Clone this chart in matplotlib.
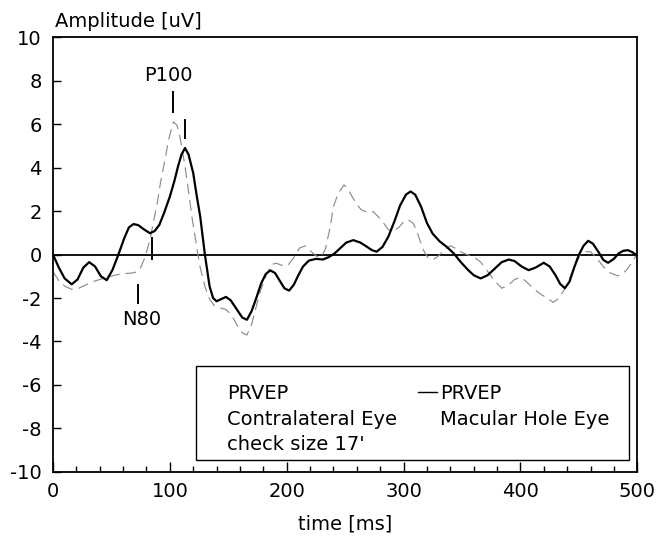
import matplotlib
matplotlib.use("Agg")
import matplotlib.pyplot as plt
from matplotlib.patches import Rectangle
from matplotlib.ticker import MultipleLocator

plt.rcParams['font.family'] = ['DejaVu Sans']
plt.rcParams['axes.unicode_minus'] = False
FS = 14

# macular hole eye (solid)
t_hole = [0, 5, 10, 16, 21, 26, 31, 36, 41, 46, 51, 56, 61, 65, 69, 73, 78, 83, 87, 91,
          95, 100, 104, 107, 110, 113, 116, 120, 123, 126, 130, 134, 137, 140, 144, 148,
          152, 157, 162, 166, 170, 174, 178, 182, 186, 190, 194, 198, 202, 206, 210, 214,
          219, 225, 231, 236, 241, 246, 251, 257, 263, 268, 273, 277, 282, 287, 292, 297,
          302, 306, 310, 315, 320, 325, 331, 337, 343, 349, 355, 360, 366, 372, 378, 384,
          390, 395, 401, 407, 413, 420, 425, 430, 434, 438, 442, 446, 450, 454, 458, 462,
          467, 471, 475, 480, 484, 488, 492, 496, 500]
amp_hole = [0.0, -0.6, -1.1, -1.37, -1.15, -0.6, -0.35, -0.55, -1.0, -1.18, -0.7, 0.0, 0.75,
            1.25, 1.4, 1.35, 1.15, 0.98, 1.08, 1.36, 1.9, 2.66, 3.4, 4.05, 4.6, 4.9, 4.6,
            3.75, 2.7, 1.75, 0.0, -1.46, -2.0, -2.15, -2.05, -1.95, -2.1, -2.5, -2.9, -3.0,
            -2.6, -2.0, -1.35, -0.9, -0.73, -0.85, -1.2, -1.55, -1.66, -1.4, -0.95, -0.55,
            -0.28, -0.2, -0.23, -0.12, 0.05, 0.3, 0.55, 0.66, 0.55, 0.38, 0.2, 0.13, 0.35,
            0.82, 1.5, 2.25, 2.75, 2.9, 2.75, 2.2, 1.45, 0.95, 0.6, 0.35, 0.05, -0.35, -0.7,
            -0.95, -1.1, -0.95, -0.65, -0.35, -0.23, -0.3, -0.55, -0.72, -0.6, -0.38, -0.55,
            -0.95, -1.35, -1.55, -1.25, -0.6, -0.02, 0.4, 0.63, 0.5, 0.1, -0.25, -0.38, -0.2,
            0.05, 0.17, 0.2, 0.1, -0.05]

# contralateral eye (dashed grey)
t_contra = [0, 5, 10, 16, 22, 28, 34, 40, 46, 52, 57, 63, 68, 72, 75, 79, 83, 86, 89, 92,
            96, 99, 103, 106, 108, 111, 113, 116, 119, 123, 126, 130, 134, 138, 143, 148,
            153, 158, 162, 166, 170, 174, 178, 183, 187, 191, 196, 201, 206, 211, 216, 221,
            226, 229, 233, 237, 240, 244, 249, 252, 256, 260, 264, 269, 274, 279, 283, 287,
            291, 296, 300, 304, 308, 311, 314, 317, 321, 324, 328, 332, 337, 340, 344, 348,
            354, 360, 366, 371, 377, 384, 390, 395, 400, 404, 408, 413, 418, 423, 428, 432,
            436, 440, 445, 451, 456, 460, 465, 471, 477, 483, 487, 491, 495, 500]
amp_contra = [-0.8, -1.2, -1.45, -1.6, -1.55, -1.4, -1.25, -1.15, -1.05, -0.97, -0.9, -0.87,
              -0.85, -0.8, -0.6, -0.1, 0.67, 1.5, 2.3, 3.3, 4.4, 5.3, 6.1, 5.95, 5.6, 4.7,
              4.05, 2.9, 1.7, 0.35, -0.6, -1.46, -2.05, -2.35, -2.45, -2.53, -2.8, -3.3,
              -3.6, -3.7, -3.2, -2.38, -1.6, -0.9, -0.46, -0.4, -0.5, -0.5, -0.15, 0.3, 0.4,
              0.13, -0.1, -0.15, 0.23, 1.2, 2.2, 2.8, 3.2, 3.05, 2.66, 2.3, 2.05, 1.95, 1.97,
              1.7, 1.44, 1.15, 1.06, 1.25, 1.5, 1.6, 1.45, 1.13, 0.65, 0.2, -0.15, -0.25,
              -0.15, 0.05, 0.3, 0.4, 0.3, 0.15, 0.0, -0.1, -0.35, -0.7, -1.15, -1.55, -1.4,
              -1.15, -1.05, -1.2, -1.4, -1.65, -1.85, -2.0, -2.2, -2.05, -1.75, -1.4, -0.7,
              -0.03, 0.13, 0.13, -0.15, -0.56, -0.85, -0.98, -0.9, -0.7, -0.4, 0.05]

fig = plt.figure(figsize=(6.58, 5.45), dpi=100)
ax = fig.add_axes([0.0805, 0.134, 0.888, 0.798])

ax.axhline(0, color='black', lw=1.3, zorder=1)
ax.plot(t_contra, amp_contra, color='#8c8c8c', lw=0.85, dashes=(9, 5), zorder=2)
ax.plot(t_hole, amp_hole, color='black', lw=1.6, zorder=3)

# peak markers
for x, y0, y1 in [(103, 7.49, 6.57), (113, 6.18, 5.36), (72.5, -1.4, -2.24), (84.8, 0.74, -0.22)]:
    ax.plot([x, x], [y0, y1], color='black', lw=1.4)
ax.text(98.5, 8.25, 'P100', ha='center', va='center', fontsize=FS)
ax.text(76, -2.97, 'N80', ha='center', va='center', fontsize=FS)

ax.set_xlim(0, 500)
ax.set_ylim(-10, 10)
ax.xaxis.set_major_locator(MultipleLocator(100))
ax.xaxis.set_minor_locator(MultipleLocator(20))
ax.yaxis.set_major_locator(MultipleLocator(2))
ax.tick_params(axis='both', which='both', direction='in', top=False, right=False,
               labelsize=FS, width=1.0, color='black')
ax.tick_params(axis='x', which='major', length=7, pad=7)
ax.tick_params(axis='x', which='minor', length=4.5)
ax.tick_params(axis='y', which='major', length=6, pad=8)
for s in ax.spines.values():
    s.set_linewidth(1.3)

ax.set_xlabel('time [ms]', fontsize=FS, labelpad=10)
fig.text(0.083, 0.96, 'Amplitude [uV]', fontsize=FS, ha='left', va='center')

# legend box
ax.add_patch(Rectangle((0.245, 0.0276), 0.74, 0.215, transform=ax.transAxes,
                       fill=True, facecolor='white', edgecolor='black', lw=1.0, zorder=4))
lx1, lx2 = (227 - 53) / 584, (440 - 53) / 584
rows = [(472 - 394) / 435, (472 - 420) / 435, (472 - 445) / 435]
ax.text(lx1, rows[0], 'PRVEP', transform=ax.transAxes, fontsize=FS, va='center', zorder=5)
ax.text(lx1, rows[1], 'Contralateral Eye', transform=ax.transAxes, fontsize=FS, va='center', zorder=5)
ax.text(lx1, rows[2], "check size 17'", transform=ax.transAxes, fontsize=FS, va='center', zorder=5)
ax.text(lx2, rows[0], 'PRVEP', transform=ax.transAxes, fontsize=FS, va='center', zorder=5)
ax.text(lx2, rows[1], 'Macular Hole Eye', transform=ax.transAxes, fontsize=FS, va='center', zorder=5)
ax.plot([(418 - 53) / 584, (437 - 53) / 584], [rows[0] + 0.005] * 2, transform=ax.transAxes,
        color='black', lw=1.0, zorder=5)

fig.savefig('out.png', dpi=100)
